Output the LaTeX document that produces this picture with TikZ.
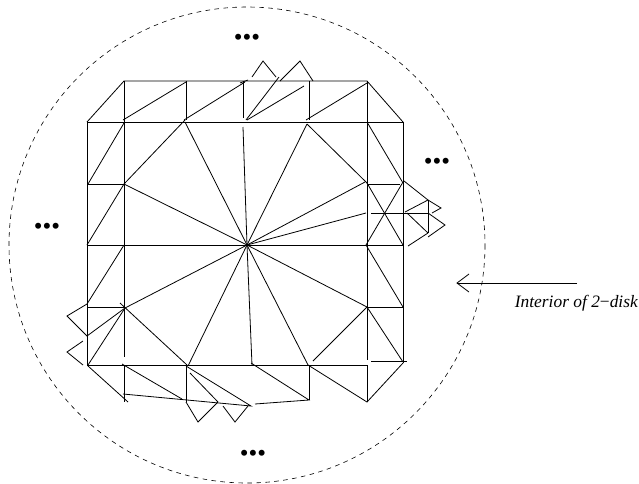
\documentclass[tikz,border=0pt]{standalone}
\usepackage{fontspec}
\setmainfont{Liberation Serif}
\tikzset{
  edge/.style={draw=black,line width=0.8pt,line join=miter},
  disk/.style={draw=black,line width=0.6pt,dash pattern=on 4.6pt off 4.4pt},
  dots/.style={font=\fontsize{25}{25}\selectfont,inner sep=0pt,text=black},
  lab/.style={font=\fontsize{17.4}{20}\selectfont\itshape,inner sep=0pt,anchor=base east}
}
\begin{document}
\begin{tikzpicture}[x=1pt,y=-1pt]
\useasboundingbox (0,0) rectangle (639,483);
\fill[white] (0,0) rectangle (639,483);
\coordinate (C) at (247,245);
% disk
\draw[disk] (C) circle[radius=238];
% outer frame and grid
\draw[edge] (87,122) -- (124,81) -- (367,81) -- (403,122);
\draw[edge] (87,122) -- (403,122);
\draw[edge] (87,245) -- (403,245);
\draw[edge] (87,122) -- (87,365) -- (367,365);
\draw[edge] (124,81) -- (124,357);
\draw[edge] (124,365) -- (124,402);
\draw[edge] (186,81) -- (186,120);
\draw[edge] (243,81) -- (243,118);
\draw[edge] (309,81) -- (309,120);
\draw[edge] (367,81) -- (367,360);
\draw[edge] (367,365) -- (367,402);
\draw[edge] (403,122) -- (403,363);
\draw[edge] (186,365) -- (186,402);
\draw[edge] (309,365) -- (309,400);
\draw[edge] (87,184) -- (124,184);
\draw[edge] (87,307) -- (125,307);
\draw[edge] (367,184) -- (400,184);
\draw[edge] (367,307) -- (403,307);
\draw[edge] (371,361) -- (407,361);
% spokes
\draw[edge] (C) -- (124,184);
\draw[edge] (C) -- (185,122);
\draw[edge] (C) -- (243,127);
\draw[edge] (C) -- (307,124);
\draw[edge] (C) -- (365,182);
\draw[edge] (C) -- (366,213);
\draw[edge] (C) -- (367,307);
\draw[edge] (C) -- (308,365);
\draw[edge] (C) -- (252,365);
\draw[edge] (C) -- (188,366);
\draw[edge] (C) -- (125,308);
% top band
\draw[edge] (123,120) -- (186,82);
\draw[edge] (184,120) -- (245,82);
\draw[edge] (240,83) -- (248,80);
\draw[edge] (252,77) -- (263,61) -- (276,77);
\draw[edge] (246,120) -- (279,77);
\draw[edge] (280,81) -- (300,61) -- (313,81);
\draw[edge] (247,120) -- (304,86);
\draw[edge] (306,120) -- (367,83);
% upper corners
\draw[edge] (185,120) -- (124,184);
\draw[edge] (124,123) -- (88,184);
\draw[edge] (124,184) -- (87,245);
\draw[edge] (307,124) -- (367,183);
\draw[edge] (367,122) -- (403,183);
% right band
\draw[edge] (367,183) -- (403,245);
\draw[edge] (403,182) -- (366,245);
\draw[edge] (366,245) -- (403,307);
\draw[edge] (371,213) -- (428,213);
\draw[edge] (404,181) -- (428,200) -- (441,208) -- (432,213);
\draw[edge] (428,200) -- (405,212);
\draw[edge] (407,213) -- (428,233);
\draw[edge] (428,200) -- (428,233);
\draw[edge] (428,213) -- (445,225) -- (428,237);
\draw[edge] (428,233) -- (408,246);
% lower right
\draw[edge] (367,307) -- (403,362);
\draw[edge] (367,307) -- (313,361);
\draw[edge] (308,365) -- (367,402) -- (403,363);
\draw[edge] (251,363) -- (309,400) -- (255,404);
% lower left
\draw[edge] (124,245) -- (87,304) -- (67,316) -- (87,336) -- (125,308);
\draw[edge] (120,303) -- (187,365);
\draw[edge] (125,308) -- (88,365);
\draw[edge] (83,341) -- (67,352) -- (83,365);
\draw[edge] (88,366) -- (128,402);
% bottom band
\draw[edge] (122,364) -- (182,399);
\draw[edge] (123,394) -- (251,406) -- (186,366);
\draw[edge] (190,373) -- (218,402);
\draw[edge] (186,402) -- (198,422) -- (218,402);
\draw[edge] (223,406) -- (235,422) -- (248,406);
% ellipses
\node[dots] (dotsN) at (247,40) {•••};
\node[dots] (dotsE) at (437,164) {•••};
\node[dots] (dotsW) at (47,229) {•••};
\node[dots] (dotsS) at (253,456) {•••};
% label and arrow
\coordinate (arrowTail) at (577,283);
\coordinate (arrowTip) at (457,283);
\draw[edge] (arrowTail) -- (arrowTip);
\draw[edge] (469,274) -- (arrowTip) -- (469,292);
\node[lab] (label) at (638,307) {Interior of 2\textup{−}disk};
\end{tikzpicture}
\end{document}
